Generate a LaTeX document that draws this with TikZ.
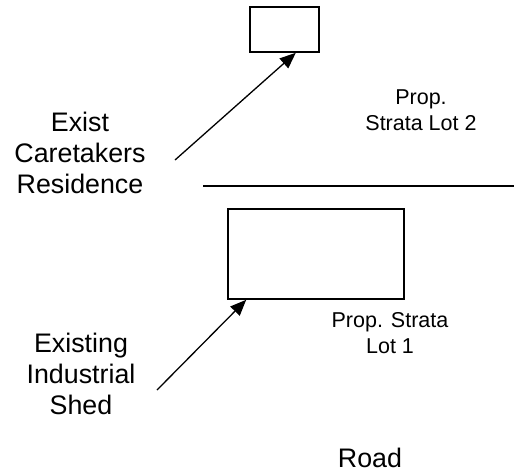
\documentclass[tikz,border=0pt]{standalone}
\usepackage{fontspec}
\setmainfont{Liberation Sans}
\usetikzlibrary{arrows.meta}

\begin{document}
\begin{tikzpicture}[
        x=1pt, y=-1pt,
        building/.style={draw, line width=1.6pt, inner sep=0},
        bigtext/.style={font=\fontsize{26.8}{31}\selectfont, align=center, inner sep=0, anchor=base},
        smalltext/.style={font=\fontsize{21.5}{26}\selectfont, align=center, inner sep=0, anchor=base},
        pointer/.style={line width=1.3pt, -{Triangle[length=16pt, width=13pt]}}
    ]

        \useasboundingbox (0,0) rectangle (514,472);

        % Buildings
        \node[building, minimum width=69pt, minimum height=45pt] (resid) at (284.5, 29.5) {};
        \node[building, minimum width=176pt, minimum height=90pt] (shed) at (316, 254) {};

        % Lot boundary
        \coordinate (b1) at (203, 186);
        \coordinate (b2) at (514, 186);
        \draw[line width=1.6pt] (b1) -- (b2);

        % Labels (base = last line)
        \node[bigtext] (care) at (80, 193) {Exist\\Caretakers\\Residence};
        \node[bigtext] (indus) at (81, 414) {Existing\\Industrial\\Shed};
        \node[smalltext] (lot2) at (421, 130) {Prop.\\Strata Lot 2};
        \node[smalltext] (lot1) at (390, 353) {Prop. Strata\\Lot 1};
        \node[bigtext] (road) at (370, 467) {Road};

        % Arrows to the buildings
        \coordinate (a1) at (175, 160);
        \coordinate (a2) at (157, 390);
        \draw[pointer] (a1) -- ([xshift=-24pt]resid.south east);
        \draw[pointer] (a2) -- ([xshift=19pt]shed.south west);

    \end{tikzpicture}
\end{document}
